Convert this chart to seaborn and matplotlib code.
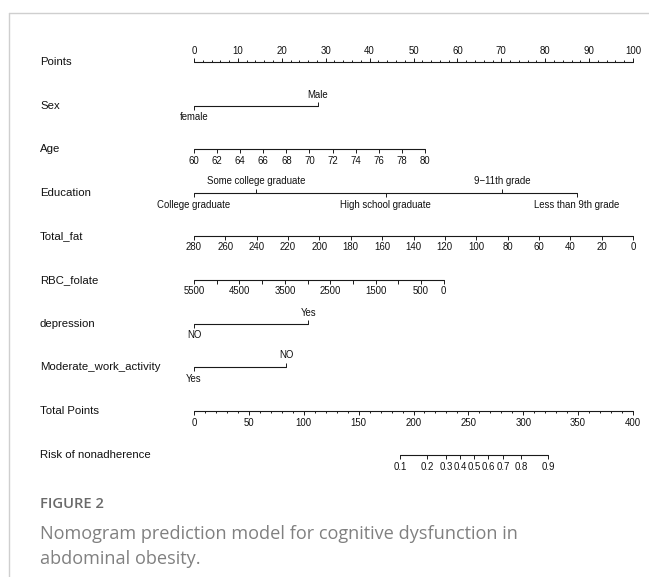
import numpy as np
import pandas as pd
import matplotlib
matplotlib.use("Agg")
import matplotlib.pyplot as plt
import matplotlib.transforms as mtransforms
from matplotlib.lines import Line2D
import seaborn as sns

# ---------------- nomogram content ----------------
row_names = ["Points", "Sex", "Age", "Education", "Total_fat", "RBC_folate",
             "depression", "Moderate_work_activity", "Total Points",
             "Risk of nonadherence"]

points_major = list(range(0, 101, 10))
points_minor = list(range(0, 101, 2))

sex_levels = ["female", "Male"]
sex_points = [0, 28.2]

age_ticks = list(range(60, 81, 2))
age_range = [60, 80]
age_points = [0, 52.6]

edu_levels = ["College graduate", "Some college graduate", "High school graduate",
              "9\u221211th grade", "Less than 9th grade"]
edu_points = [0, 14.1, 43.7, 70.2, 87.2]

fat_ticks = list(range(280, -1, -20))
fat_range = [280, 0]
fat_points = [0, 100]

folate_ticks = list(range(5500, -1, -500))
folate_labels = [5500, 4500, 3500, 2500, 1500, 500, 0]
folate_range = [5500, 0]
folate_points = [0, 56.9]

dep_levels = ["NO", "Yes"]
dep_points = [0, 26.0]

work_levels = ["Yes", "NO"]
work_points = [0, 21.0]

total_major = list(range(0, 401, 50))
total_minor = list(range(0, 401, 10))
total_range = [0, 400]

risk_labels = ["0.1", "0.2", "0.3", "0.4", "0.5", "0.6", "0.7", "0.8", "0.9"]
risk_total_points = [187.7, 212.4, 229.6, 242.4, 255.1, 267.9, 281.5, 297.9, 322.6]

caption_tag = "FIGURE 2"
caption_lines = ["Nomogram prediction model for cognitive dysfunction in",
                 "abdominal obesity."]

# ---------------- layout ----------------
W, H = 649, 577
DPI = 100
PX_ZERO, PX_HUNDRED = 194, 633          # pixel span of the 0-100 Points scale
px_per_pt = (PX_HUNDRED - PX_ZERO) / 100.0
row_y = [62, 106, 149, 193, 236, 280, 324, 367, 411, 455]
label_x_px = 40
major_len, minor_len = 4.0, 2.2
label_gap = 11.5
name_size = 8.2
tick_size = 6.9
line_col = "#1a1a1a"

sns.set_theme(style="white")
plt.rcParams["font.family"] = ["Liberation Sans", "DejaVu Sans"]

fig = plt.figure(figsize=(W / DPI, H / DPI), dpi=DPI)
ax = fig.add_axes([0, 0, 1, 1])


def lin(values, vrange, prange):
    v = np.asarray(values, dtype=float)
    return prange[0] + (v - vrange[0]) * (prange[1] - prange[0]) / (vrange[1] - vrange[0])


segments = []


def continuous_axis(y, pos, labels, label_pos, minor_pos=None, up=False):
    segments.append((y, min(pos), max(pos)))
    sgn = -1 if up else 1
    ax.vlines(pos, y, y + sgn * major_len, color=line_col, lw=0.7)
    if minor_pos is not None:
        ax.vlines(minor_pos, y, y + sgn * minor_len, color=line_col, lw=0.7)
    for p, t in zip(label_pos, labels):
        ax.text(p, y + sgn * label_gap, t, ha="center", va="center",
                fontsize=tick_size, color="#111111")


def categorical_axis(y, pos, levels):
    segments.append((y, min(pos), max(pos)))
    for i, (p, t) in enumerate(zip(pos, levels)):
        sgn = 1 if i % 2 == 0 else -1
        ax.vlines(p, y, y + sgn * major_len, color=line_col, lw=0.7)
        ax.text(p, y + sgn * label_gap, t, ha="center", va="center",
                fontsize=tick_size, color="#111111")


# Points
continuous_axis(row_y[0], points_major, [str(v) for v in points_major], points_major,
                minor_pos=points_minor, up=True)
# Sex
categorical_axis(row_y[1], sex_points, sex_levels)
# Age
age_pos = lin(age_ticks, age_range, age_points)
continuous_axis(row_y[2], age_pos, [str(v) for v in age_ticks], age_pos)
# Education
categorical_axis(row_y[3], edu_points, edu_levels)
# Total fat
fat_pos = lin(fat_ticks, fat_range, fat_points)
continuous_axis(row_y[4], fat_pos, [str(v) for v in fat_ticks], fat_pos)
# RBC folate
fol_pos = lin(folate_ticks, folate_range, folate_points)
fol_lab_pos = lin(folate_labels, folate_range, folate_points)
continuous_axis(row_y[5], fol_pos, [str(v) for v in folate_labels], fol_lab_pos)
# depression / work activity
categorical_axis(row_y[6], dep_points, dep_levels)
categorical_axis(row_y[7], work_points, work_levels)
# Total points (0-400 maps onto the 0-100 Points scale)
tot_major_pos = lin(total_major, total_range, [0, 100])
tot_minor_pos = lin(total_minor, total_range, [0, 100])
continuous_axis(row_y[8], tot_major_pos, [str(v) for v in total_major], tot_major_pos,
                minor_pos=tot_minor_pos)
# Risk
risk_pos = lin(risk_total_points, total_range, [0, 100])
continuous_axis(row_y[9], risk_pos, risk_labels, risk_pos)

# horizontal axis lines through seaborn
seg_df = pd.DataFrame(
    [{"row": i, "x": x, "y": y} for i, (y, a, b) in enumerate(segments) for x in (a, b)]
)
sns.lineplot(data=seg_df, x="x", y="y", units="row", estimator=None, sort=False,
             color=line_col, lw=0.8, ax=ax, legend=False)
ax.set_xlim(-PX_ZERO / px_per_pt, (W - PX_ZERO) / px_per_pt)
ax.set_ylim(H, 0)
ax.axis("off")

# row names
blend = mtransforms.blended_transform_factory(fig.transFigure, ax.transData)
for name, y in zip(row_names, row_y):
    ax.text(label_x_px / W, y, name, transform=blend, ha="left", va="center",
            fontsize=name_size, color="#111111")

# page frame
frame_col = "#cfcfcf"
fig.add_artist(Line2D([9 / W, 9 / W], [0, 1 - 13 / H], transform=fig.transFigure,
                      color=frame_col, lw=1.0))
fig.add_artist(Line2D([9 / W, 1], [1 - 13 / H, 1 - 13 / H], transform=fig.transFigure,
                      color=frame_col, lw=1.0))

# caption
fig.text(40 / W, 1 - 504 / H, caption_tag, ha="left", va="center", fontsize=10.6,
         color="#6a6a6a", family=["Open Sans", "DejaVu Sans"], fontweight="semibold")
for i, line in enumerate(caption_lines):
    fig.text(40 / W, 1 - (534 + 25 * i) / H, line, ha="left", va="center",
             fontsize=13.1, color="#808080", family=["Open Sans", "DejaVu Sans"])

fig.savefig("out.png", dpi=DPI, facecolor="white")
